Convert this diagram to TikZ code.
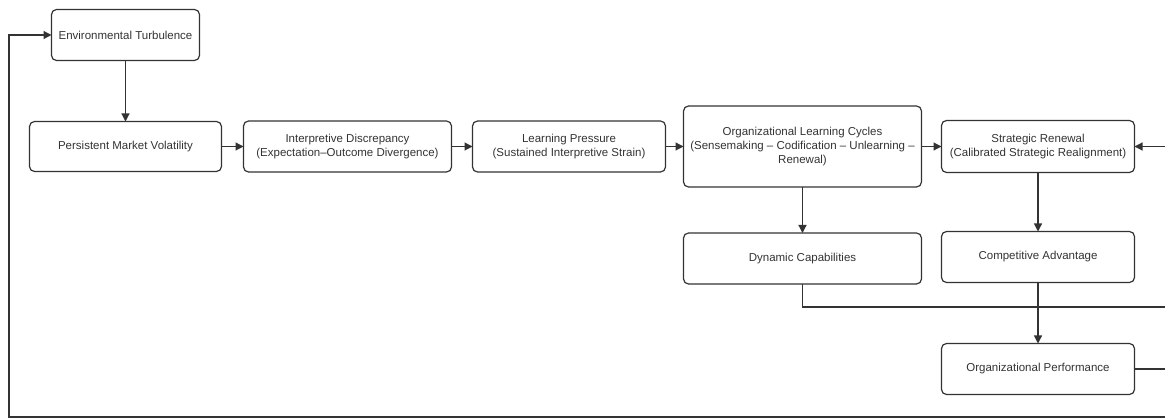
\documentclass[tikz,border=0pt]{standalone}
\usepackage{fontspec}
\setmainfont{Liberation Sans}
\usepackage{xcolor}
\usepackage{tikz}
\usetikzlibrary{arrows.meta, positioning}
\definecolor{inkgray}{HTML}{333333}

\begin{document}
\begin{tikzpicture}[x=1pt, y=1pt,
  block/.style={rectangle, draw=inkgray, line width=1.2pt, rounded corners=5pt,
                minimum width=193pt, minimum height=51pt, align=center, outer sep=0pt,
                text=inkgray, inner sep=2pt, font=\fontsize{11.5}{14}\selectfont},
  arr/.style={-{Triangle[length=8pt, width=8pt]}, line width=1.2pt, draw=inkgray},
  link/.style={line width=1.2pt, draw=inkgray},
  node distance=21pt
]
  \useasboundingbox (0,0) rectangle (1165,-419);

  \node[block, minimum width=192pt, minimum height=50pt] (pmv) at (125.5,-146.5) {Persistent Market Volatility};
  \node[block, minimum width=148pt, above=61pt of pmv] (et) {Environmental Turbulence};
  \node[block, minimum width=208pt, right=22pt of pmv] (id) {Interpretive Discrepancy\\(Expectation--Outcome Divergence)};
  \node[block, right=of id] (lp) {Learning Pressure\\(Sustained Interpretive Strain)};
  \node[block, minimum width=238pt, minimum height=81pt, right=18pt of lp] (olc) {Organizational Learning Cycles\\(Sensemaking -- Codification -- Unlearning --\\Renewal)};
  \node[block, minimum height=52pt, right=20pt of olc] (sr) {Strategic Renewal\\(Calibrated Strategic Realignment)};
  \node[block, minimum width=238pt, below=46pt of olc] (dc) {Dynamic Capabilities};
  \node[block, below=59pt of sr] (ca) {Competitive Advantage};
  \node[block, below=61pt of ca] (op) {Organizational Performance};

  \coordinate (edge) at (1165,-307);
  \coordinate (loopr) at (1165,-417);
  \coordinate (loopl) at (9,-417);

  \draw[arr] (et) -- (pmv);
  \draw[arr] (pmv) -- (id);
  \draw[arr] (id) -- (lp);
  \draw[arr] (lp) -- (olc);
  \draw[arr] (olc) -- (sr);
  \draw[arr] (olc) -- (dc);
  \draw[arr] (sr) -- (ca);
  \draw[arr] (ca) -- (op);
  \draw[arr] (sr.east -| edge) -- (sr.east);
  \draw[link] (dc.south) |- (edge);
  \draw[link] (op.east) -- (op.east -| edge);
  \draw[arr] (loopr) -- (loopl) |- (et.west);
\end{tikzpicture}
\end{document}
